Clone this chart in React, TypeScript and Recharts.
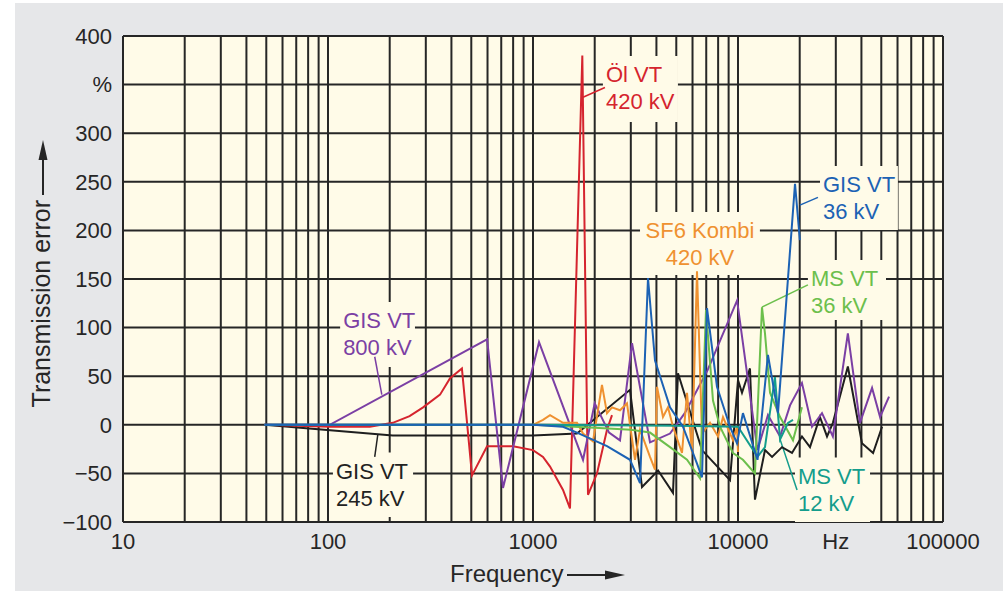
import { LineChart, Line, XAxis, YAxis, CartesianGrid, ReferenceLine, ReferenceArea } from 'recharts';

// frequency in Hz, transmission error in %
const oilVt420 = [
  { f: 49, e: 0 }, { f: 102, e: -2 }, { f: 160, e: -2 }, { f: 207, e: 2 }, { f: 250, e: 9 },
  { f: 291, e: 18 }, { f: 352, e: 31 }, { f: 394, e: 48 }, { f: 450, e: 58 }, { f: 504, e: -52 },
  { f: 597, e: -22 }, { f: 799, e: -22 }, { f: 1000, e: -26 }, { f: 1119, e: -33 }, { f: 1211, e: -43 },
  { f: 1401, e: -67 }, { f: 1515, e: -86 }, { f: 1740, e: 380 }, { f: 1855, e: -72 }, { f: 2052, e: -50 },
  { f: 2296, e: -5 }, { f: 2429, e: 10 },
];

const gisVt800 = [
  { f: 49, e: 0 }, { f: 102, e: 0 }, { f: 597, e: 88 }, { f: 714, e: -65 }, { f: 1070, e: 85 },
  { f: 1754, e: -36 }, { f: 2000, e: 22 }, { f: 2350, e: -8 }, { f: 2657, e: -16 }, { f: 3041, e: 84 },
  { f: 3722, e: -18 }, { f: 4660, e: -9 }, { f: 5500, e: 12 }, { f: 7100, e: 56 }, { f: 9900, e: 128 },
  { f: 12450, e: -26 }, { f: 14000, e: 10 }, { f: 16040, e: -12 }, { f: 17940, e: 20 }, { f: 20510, e: 43 },
  { f: 22960, e: -2 }, { f: 25690, e: 12 }, { f: 29030, e: -12 }, { f: 34350, e: 94 }, { f: 39340, e: 2 },
  { f: 45080, e: 38 }, { f: 49320, e: 8 }, { f: 54550, e: 29 },
];

const gisVt245 = [
  { f: 49, e: 0 }, { f: 207, e: -11 }, { f: 1000, e: -11 }, { f: 1639, e: -9 },
  { f: 2973, e: 36 }, { f: 3402, e: -64 }, { f: 4076, e: -47 }, { f: 4818, e: -70 }, { f: 5097, e: 53 },
  { f: 6673, e: -26 }, { f: 9141, e: -57 }, { f: 10000, e: 46 }, { f: 10460, e: 33 }, { f: 11440, e: 58 },
  { f: 12100, e: -77 }, { f: 13540, e: -26 }, { f: 14660, e: -33 }, { f: 16390, e: -23 }, { f: 18340, e: -29 },
  { f: 20510, e: -12 }, { f: 22450, e: -23 }, { f: 25100, e: 8 }, { f: 27180, e: -12 }, { f: 29030, e: 2 },
  { f: 34350, e: 60 }, { f: 40240, e: -19 }, { f: 45600, e: -29 }, { f: 50440, e: -2 },
];

const gisVt36 = [
  { f: 49, e: 0 }, { f: 1000, e: 0 }, { f: 1401, e: -2 }, { f: 1639, e: -8 }, { f: 2296, e: -22 },
  { f: 2973, e: -36 }, { f: 3327, e: -60 }, { f: 3639, e: 151 }, { f: 3937, e: 66 }, { f: 4660, e: 18 },
  { f: 5391, e: -2 }, { f: 6310, e: -40 }, { f: 6673, e: -54 }, { f: 7060, e: 120 }, { f: 7898, e: 39 },
  { f: 9141, e: -2 }, { f: 9888, e: -19 }, { f: 10570, e: 12 }, { f: 12450, e: -36 }, { f: 14000, e: 72 },
  { f: 15670, e: 12 }, { f: 18970, e: 248 }, { f: 20040, e: 190 },
];

const sf6Kombi420 = [
  { f: 1000, e: 0 }, { f: 1119, e: 5 }, { f: 1211, e: 10 }, { f: 1401, e: 2 }, { f: 1639, e: 2 },
  { f: 1754, e: -9 }, { f: 1962, e: -17 }, { f: 2170, e: 41 }, { f: 2296, e: 12 }, { f: 2429, e: 18 },
  { f: 2657, e: 15 }, { f: 2873, e: 22 }, { f: 3145, e: -36 }, { f: 3327, e: -5 }, { f: 3722, e: -33 },
  { f: 3937, e: -46 }, { f: 4027, e: 39 }, { f: 4306, e: 8 }, { f: 4555, e: 18 }, { f: 4818, e: -2 },
  { f: 5331, e: -29 }, { f: 5640, e: 33 }, { f: 5966, e: -29 }, { f: 6310, e: 158 }, { f: 6673, e: -9 },
  { f: 7302, e: 2 }, { f: 7988, e: -12 }, { f: 8450, e: 8 }, { f: 9454, e: -16 }, { f: 9888, e: -2 },
  { f: 10000, e: -28 },
];

const msVt36 = [
  { f: 1000, e: 0 }, { f: 2000, e: -3 }, { f: 3000, e: -5 }, { f: 3722, e: -8 }, { f: 4660, e: -23 },
  { f: 5640, e: -36 }, { f: 6524, e: -55 }, { f: 6981, e: 118 }, { f: 7551, e: 25 }, { f: 8170, e: -2 },
  { f: 9454, e: -29 }, { f: 10570, e: -36 }, { f: 12100, e: -50 }, { f: 13090, e: 121 }, { f: 13540, e: 94 },
  { f: 14330, e: 33 }, { f: 16040, e: 8 }, { f: 18550, e: -16 }, { f: 20510, e: 18 },
];

const msVt12 = [
  { f: 49, e: 0 }, { f: 1000, e: 0 }, { f: 5000, e: -1 }, { f: 10000, e: -2 }, { f: 12450, e: -33 },
  { f: 13540, e: -23 }, { f: 15140, e: 49 }, { f: 16040, e: -15 }, { f: 17540, e: 2 }, { f: 18550, e: 5 },
];

const xTicks = [10, 100, 1000, 10000, 30000, 100000];
const xTickLabels = ['10', '100', '1000', '10000', 'Hz', '100000'];
const yTicks = [-100, -50, 0, 50, 100, 150, 200, 250, 300, 350, 400];
const yTickLabels = ['−100', '−50', '0', '50', '100', '150', '200', '250', '300', '%', '400'];

const FONT = '"Liberation Sans", Arial, sans-serif';
const INK = '#262626';
const PAPER = '#fffbe8';

// log grid: 1..9 in every decade plus the last line
const gridFreqs: number[] = [];
for (let d = 10; d < 100000; d *= 10) {
  for (let k = 1; k <= 9; k++) gridFreqs.push(d * k);
}
gridFreqs.push(100000);

const callouts = [
  { lines: ['Öl VT', '420 kV'], color: '#d5242e', x1: 2193, x2: 5093, y1: 311.5, y2: 379.4, leader: [[1754, 337], [2244, 347]] },
  { lines: ['SF6 Kombi', '420 kV'], color: '#ef9130', x1: 3327, x2: 12790, y1: 154, y2: 219, centered: true },
  { lines: ['GIS VT', '36 kV'], color: '#1c62b4', x1: 25120, x2: 60260, y1: 200.4, y2: 266.3, leader: [[20040, 226], [24550, 234]] },
  { lines: ['MS VT', '36 kV'], color: '#6cbf4c', x1: 21930, x2: 52720, y1: 107.8, y2: 169.5, leader: [[13090, 121], [21930, 144]] },
  { lines: ['MS VT', '12 kV'], color: '#149d8c', x1: 18970, x2: 44060, y1: -100, y2: -33.7, leader: [[16040, -15], [19410, -67]] },
  { lines: ['GIS VT', '800 kV'], color: '#7b3fa4', x1: 114.6, x2: 265.6, y1: 59.5, y2: 126.3, leader: [[183, 31], [169, 70]] },
  { lines: ['GIS VT', '245 kV'], color: '#222222', x1: 105.7, x2: 260, y1: -94.9, y2: -28.6, leader: [[175, -10], [169, -33]] },
];

function BoxLabel({ viewBox, lines, color, centered }: any) {
  if (!viewBox) return null;
  const { x, y, width } = viewBox;
  const tx = centered ? x + width / 2 : x + 3;
  return (
    <g>
      {lines.map((t: string, i: number) => (
        <text key={t} x={tx} y={y + 26 + i * 27} textAnchor={centered ? 'middle' : 'start'}
          fill={color} fontSize={22} fontFamily={FONT}>{t}</text>
      ))}
    </g>
  );
}

function FrequencyTitle({ viewBox }: any) {
  if (!viewBox) return null;
  const tx = viewBox.x + 327;
  const by = viewBox.y + 60;
  return (
    <g>
      <text x={tx} y={by} fill={INK} fontSize={24} fontFamily={FONT}>Frequency</text>
      <line x1={tx + 117} y1={by - 7} x2={tx + 160} y2={by - 7} stroke={INK} strokeWidth={2} />
      <polygon points={`${tx + 175},${by - 7} ${tx + 155},${by - 11.5} ${tx + 155},${by - 2.5}`} fill={INK} />
    </g>
  );
}

function ErrorTitle({ viewBox }: any) {
  if (!viewBox) return null;
  const bx = viewBox.x + 50;
  const ey = viewBox.y + 164;
  const ax = bx - 7;
  return (
    <g>
      <text x={bx} y={ey} transform={`rotate(-90 ${bx} ${ey})`} textAnchor="end"
        fill={INK} fontSize={25} fontFamily={FONT}>Transmission error</text>
      <line x1={ax} y1={ey - 5} x2={ax} y2={ey - 45} stroke={INK} strokeWidth={2} />
      <polygon points={`${ax},${ey - 60} ${ax - 4.5},${ey - 40} ${ax + 4.5},${ey - 40}`} fill={INK} />
    </g>
  );
}

const series = [
  { name: 'GIS VT 245 kV', data: gisVt245, color: '#1e1e1e' },
  { name: 'Öl VT 420 kV', data: oilVt420, color: '#d5242e' },
  { name: 'GIS VT 800 kV', data: gisVt800, color: '#7b3fa4' },
  { name: 'SF6 Kombi 420 kV', data: sf6Kombi420, color: '#ef9130' },
  { name: 'MS VT 36 kV', data: msVt36, color: '#6cbf4c' },
  { name: 'MS VT 12 kV', data: msVt12, color: '#149d8c' },
  { name: 'GIS VT 36 kV', data: gisVt36, color: '#1c62b4' },
];

export default function App() {
  return (
    <div style={{ position: 'absolute', left: 0, top: 0, width: 1003, height: 591, background: '#fff' }}>
      <div style={{ position: 'absolute', left: 15, top: 3, right: 0, bottom: 0, background: '#e6e7e9' }} />
      <div style={{ position: 'absolute', left: 0, top: 0 }}>
        <LineChart width={1003} height={591} margin={{ top: 36, right: 60, bottom: 0, left: 0 }}>
          <CartesianGrid vertical={false} fill={PAPER} stroke={INK} strokeWidth={2} strokeOpacity={1} />
          <XAxis
            dataKey="f" type="number" scale="log" domain={[10, 100000]} allowDataOverflow
            ticks={xTicks} tickFormatter={(v: number) => xTickLabels[xTicks.indexOf(v)] ?? ''}
            interval={0} height={69} axisLine={false} tickLine={false} tickSize={0} tickMargin={11}
            tick={{ fill: INK, fontSize: 22, fontFamily: FONT }}
            label={<FrequencyTitle />}
          />
          <YAxis
            type="number" domain={[-100, 400]} ticks={yTicks} interval={0}
            tickFormatter={(v: number) => yTickLabels[yTicks.indexOf(v)] ?? ''}
            width={123} axisLine={false} tickLine={false} tickSize={0} tickMargin={11}
            tick={{ fill: INK, fontSize: 22, fontFamily: FONT }}
            label={<ErrorTitle />}
          />
          {gridFreqs.map((g) => (
            <ReferenceLine key={g} x={g} stroke={INK} strokeWidth={2} ifOverflow="extendDomain" zIndex={-90} />
          ))}
          {callouts.map((c) => (
            <ReferenceArea key={c.lines.join()} x1={c.x1} x2={c.x2} y1={c.y1} y2={c.y2}
              fill={PAPER} fillOpacity={1} stroke="none" zIndex={-80}
              label={<BoxLabel lines={c.lines} color={c.color} centered={c.centered} />} />
          ))}
          {callouts.filter((c) => c.leader).map((c) => (
            <ReferenceLine key={'l' + c.lines.join()} stroke={c.color} strokeWidth={1.5}
              segment={[{ x: c.leader![0][0], y: c.leader![0][1] }, { x: c.leader![1][0], y: c.leader![1][1] }]} />
          ))}
          {series.map((s) => (
            <Line key={s.name} name={s.name} data={s.data} dataKey="e" type="linear" stroke={s.color}
              strokeWidth={2} dot={false} activeDot={false} isAnimationActive={false} />
          ))}
        </LineChart>
      </div>
    </div>
  );
}
